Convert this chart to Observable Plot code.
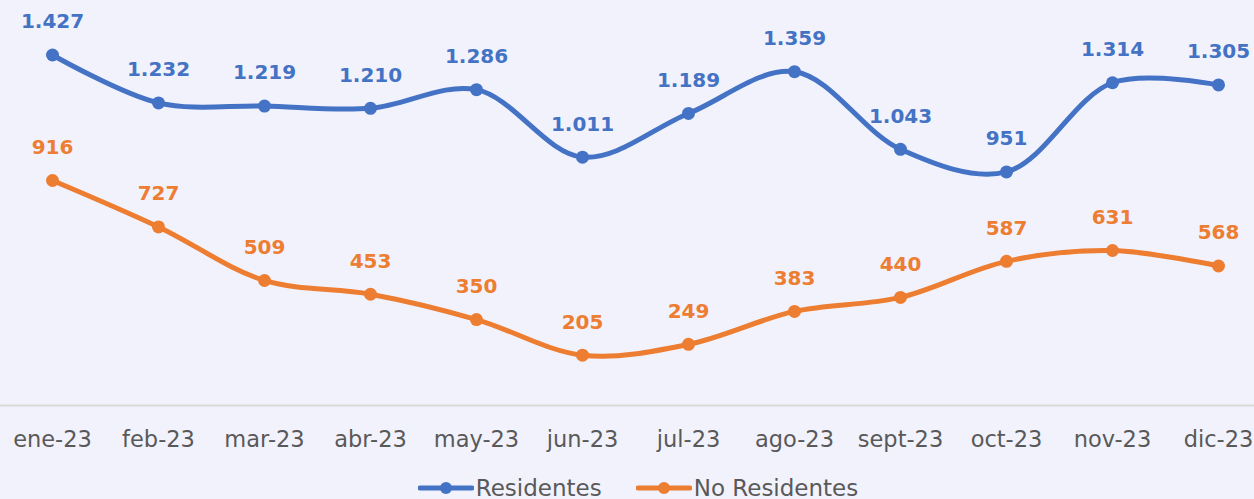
<!DOCTYPE html>
<html><head><meta charset="utf-8">
<script src="https://cdn.jsdelivr.net/npm/d3@7"></script>
<script src="https://cdn.jsdelivr.net/npm/@observablehq/plot@0.6"></script>
<style>
html,body{margin:0;padding:0;background:#f2f2fd;}
#chart{width:1254px;height:499px;overflow:hidden;}
.legend{display:flex;justify-content:center;align-items:center;gap:34px;height:29px;font-family:"DejaVu Sans",sans-serif;font-size:23px;color:#595959;margin-left:22px;padding-top:3px;}
.legend span{display:inline-flex;align-items:center;}
.legend svg{margin-right:2px;}
</style></head>
<body><div id="chart"></div>
<script>
const months = ["ene-23","feb-23","mar-23","abr-23","may-23","jun-23","jul-23","ago-23","sept-23","oct-23","nov-23","dic-23"];
const residentes = [1427,1232,1219,1210,1286,1011,1189,1359,1043,951,1314,1305];
const noResidentes = [916,727,509,453,350,205,249,383,440,587,631,568];
const seriesNames = ["Residentes","No Residentes"];
const colors = ["#4472c4","#ed7d31"];

const data = [];
months.forEach((m,i)=>{
  data.push({month:m, value:residentes[i], serie:seriesNames[0]});
  data.push({month:m, value:noResidentes[i], serie:seriesNames[1]});
});
const fmt = d3.formatLocale({thousands:".",grouping:[3],decimal:",",currency:["","€"]}).format(",");

const chart = Plot.plot({
  width:1254, height:470,
  marginLeft:0, marginRight:0, marginTop:12, marginBottom:65,
  style:{background:"#f2f2fd", fontFamily:"DejaVu Sans, sans-serif", overflow:"visible"},
  x:{type:"point", domain:months, range:[48,1222], padding:0, label:null},
  y:{domain:[0,1600], axis:null},
  color:{domain:seriesNames, range:colors},
  marks:[
    Plot.ruleY([0],{stroke:"#d9d9d9", strokeWidth:2}),
    Plot.axisX({tickSize:0, tickPadding:26, fontSize:22.5, fill:"#595959", label:null}),
    Plot.line(data,{x:"month", y:"value", z:"serie", stroke:"serie", strokeWidth:5, curve:"catmull-rom"}),
    Plot.dot(data,{x:"month", y:"value", fill:"serie", r:6.5}),
    Plot.text(data,{x:"month", y:"value", text:d=>fmt(d.value), fill:"serie", dy:-33, fontSize:20, fontWeight:"bold"})
  ]
});
const root = document.getElementById("chart");
root.appendChild(chart);
const leg = document.createElement("div");
leg.className="legend";
seriesNames.forEach((s,i)=>{
  const sp=document.createElement("span");
  sp.innerHTML=`<svg width="56" height="14"><line x1="2" y1="7" x2="54" y2="7" stroke="${colors[i]}" stroke-width="5" stroke-linecap="round"/><circle cx="28" cy="7" r="6" fill="${colors[i]}"/></svg>${s}`;
  leg.appendChild(sp);
});
root.appendChild(leg);
</script></body></html>
